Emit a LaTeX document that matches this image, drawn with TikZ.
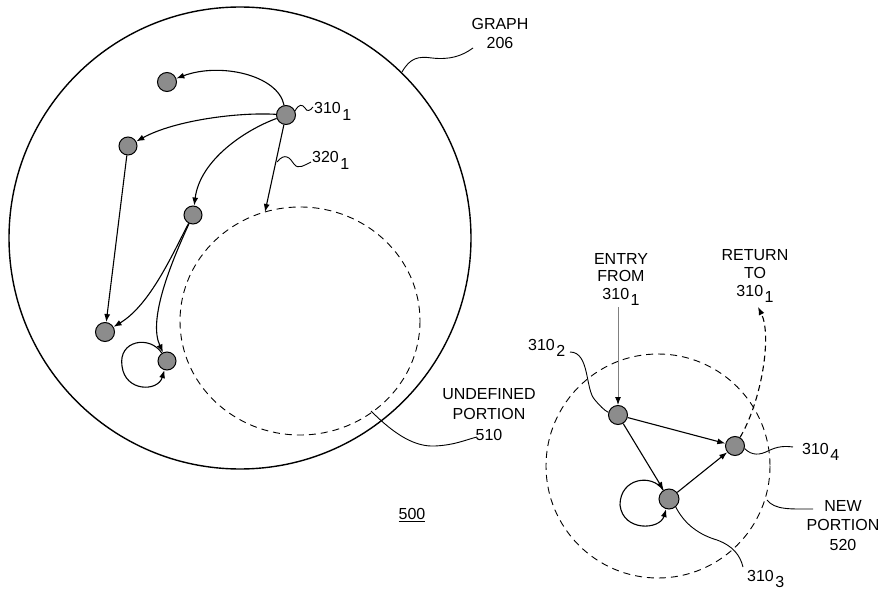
\documentclass[tikz,border=0pt]{standalone}
\usepackage{fontspec}
\setmainfont{Liberation Sans}
\usetikzlibrary{arrows.meta}
\newcommand{\idx}[2]{#1\hspace{1.5pt}\raisebox{-6.5pt}{#2}}
\begin{document}
\begin{tikzpicture}[x=1pt,y=-1pt,
  gnode/.style={circle,draw,line width=1pt,fill=black!45,minimum size=19pt,inner sep=0pt},
  edge/.style={line width=1.1pt,-{Latex[length=8pt,width=6pt]}},
  lead/.style={line width=0.9pt},
  dashcirc/.style={line width=0.9pt,dash pattern=on 7pt off 5pt},
  lbl/.style={font=\fontsize{16}{19}\selectfont,inner sep=0pt,align=center}]
\useasboundingbox (0,0) rectangle (884,591);
% regions
\draw[line width=1.4pt] (240,238) circle[radius=231];
\draw[dashcirc] (300,321) ellipse[x radius=120,y radius=114];
\draw[dashcirc] (658,466) circle[radius=112];
% nodes
\node[gnode] (ntop) at (167,82) {};
\node[gnode] (n1) at (286,115) {};
\node[gnode,minimum size=18pt] (nleft) at (128,146) {};
\node[gnode,minimum size=18pt] (nmid) at (193,215) {};
\node[gnode] (nbl) at (105,332) {};
\node[gnode,minimum size=18pt] (nloop) at (167,361) {};
\node[gnode] (n2) at (618,415) {};
\node[gnode] (n4) at (735,446) {};
\node[gnode,minimum size=20pt] (n3) at (669,499) {};
\coordinate (e320) at (265,212);
\coordinate (entrytop) at (618,307);
\coordinate (ret) at (758,307);
% left graph edges
\draw[edge] (n1) .. controls (278,75) and (220,62) .. (ntop);
\draw[edge] (n1) .. controls (240,112) and (175,120) .. (nleft);
\draw[edge] (n1) .. controls (245,130) and (200,160) .. (nmid);
\draw[edge] (n1) -- (e320);
\draw[edge] (nleft) -- (nbl);
\draw[edge] (nmid) .. controls (172,255) and (150,305) .. (nbl);
\draw[edge] (nmid) .. controls (170,265) and (148,320) .. (nloop);
\draw[edge] (nloop) .. controls (150,335) and (118,340) .. (122,366) .. controls (125,392) and (158,392) .. (nloop);
% right graph edges
\draw[edge] (n2) -- (n4);
\draw[edge] (n2) -- (n3);
\draw[edge] (n3) -- (n4);
\draw[edge] (n3) .. controls (652,473) and (620,478) .. (620,505) .. controls (623,532) and (660,530) .. (n3);
\draw[line width=1pt,gray,-{Latex[length=8pt,width=6pt,black]}] (entrytop) -- (n2);
\draw[edge,dash pattern=on 6pt off 4pt] (n4) .. controls (762,400) and (772,335) .. (ret);
% leaders
\draw[lead] (402,72) .. controls (410,58) and (418,56) .. (432,58) .. controls (450,60) and (462,56) .. (473,48);
\draw[lead] (n1.25) .. controls (299,104) and (302,104) .. (305,108) .. controls (307,112) and (310,111) .. (313,107);
\draw[lead] (277,162) .. controls (285,152) and (290,158) .. (294,164) .. controls (298,170) and (305,165) .. (311,162);
\draw[lead] (371,411) .. controls (395,435) and (415,447) .. (435,446) .. controls (455,445) and (465,440) .. (477,437);
\draw[lead] (570,352) .. controls (590,352) and (585,390) .. (595,400) .. controls (600,406) and (604,410) .. (n2.165);
\draw[lead] (n4.-15) .. controls (752,456) and (760,455) .. (768,451) .. controls (778,446) and (785,446) .. (793,447);
\draw[lead] (767,500) .. controls (775,510) and (790,509) .. (813,509);
\draw[lead] (n3.-50) .. controls (685,525) and (700,535) .. (717,540) .. controls (733,546) and (740,555) .. (743,567);
% labels
\node[lbl,anchor=north] (tgraph) at (500,18) {GRAPH\\206};
\node[lbl,anchor=base west] (t3101) at (314,114) {\idx{310}{1}};
\node[lbl,anchor=base west] (t320) at (312,163) {\idx{320}{1}};
\node[lbl,anchor=north,font=\fontsize{16}{20.5}\selectfont] (tundef) at (489,388) {UNDEFINED\\PORTION\\510};
\node[lbl,anchor=north,font=\fontsize{16}{17.5}\selectfont] (tentry) at (621,253) {ENTRY\\FROM\\\idx{310}{1}};
\node[lbl,anchor=north,font=\fontsize{16}{18}\selectfont] (treturn) at (755,249) {RETURN\\TO\\\idx{310}{1}};
\node[lbl,anchor=base west] (t3102) at (528,350) {\idx{310}{2}};
\node[lbl,anchor=base west] (t3104) at (802,454) {\idx{310}{4}};
\node[lbl,anchor=north,font=\fontsize{16}{19.5}\selectfont] (tnew) at (843,500) {NEW\\PORTION\\520};
\node[lbl,anchor=base west] (t3103) at (747,581) {\idx{310}{3}};
\node[lbl] (t500) at (412,515) {\underline{500}};
\end{tikzpicture}
\end{document}
